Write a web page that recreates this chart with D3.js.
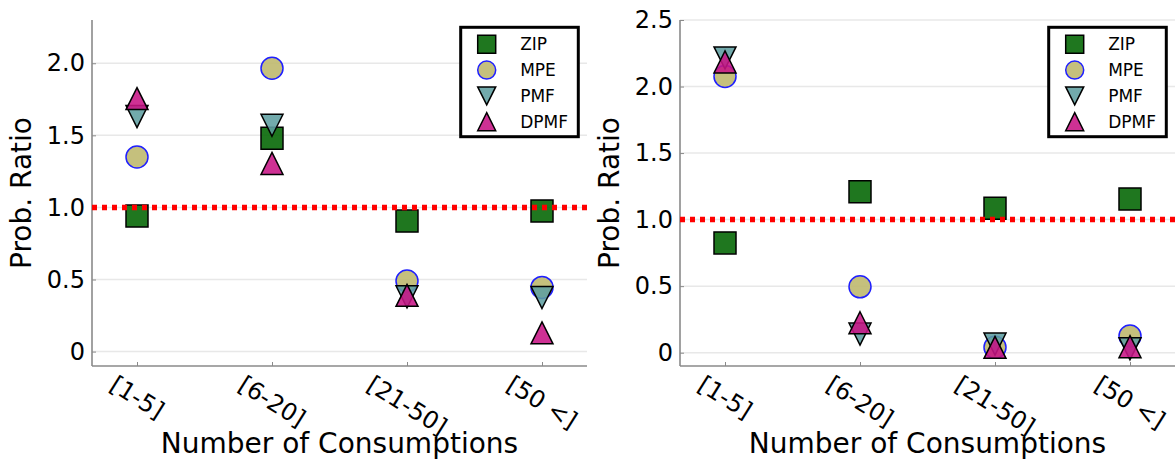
<!DOCTYPE html>
<html>
<head>
<meta charset="utf-8">
<script src="https://cdn.jsdelivr.net/npm/d3@7"></script>
<style>
  html, body { margin: 0; padding: 0; background: #fff; }
  svg { display: block; font-family: "DejaVu Sans", sans-serif; }
</style>
</head>
<body>
<svg id="chart" width="1175" height="463"></svg>
<script>
// Consumption-count buckets on the x axis
const categories = ["[1-5]", "[6-20]", "[21-50]", "[50 <]"];
const seriesNames = ["ZIP", "MPE", "PMF", "DPMF"];

// Left panel: probability ratio per bucket
const zipLeft  = [0.94, 1.48, 0.905, 0.975];
const mpeLeft  = [1.35, 1.965, 0.49, 0.445];
const pmfLeft  = [1.63, 1.57, 0.38, 0.375];
const dpmfLeft = [1.755, 1.305, 0.39, 0.13];

// Right panel: probability ratio per bucket
const zipRight  = [0.825, 1.21, 1.085, 1.155];
const mpeRight  = [2.075, 0.495, 0.04, 0.125];
const pmfRight  = [2.215, 0.14, 0.065, 0.03];
const dpmfRight = [2.185, 0.225, 0.04, 0.045];

// Y tick values and their labels
const yTicksLeft  = [0, 0.5, 1.0, 1.5, 2.0];
const yTickLabelsLeft  = ["0", "0.5", "1.0", "1.5", "2.0"];
const yTicksRight = [0, 0.5, 1.0, 1.5, 2.0, 2.5];
const yTickLabelsRight = ["0", "0.5", "1.0", "1.5", "2.0", "2.5"];

const referenceLevel = 1.0;

// Marker styles per series
const styles = {
  ZIP:  { shape: "square",   fill: "#006400", stroke: "#000" },
  MPE:  { shape: "circle",   fill: "#bdb76b", stroke: "#1f1fff" },
  PMF:  { shape: "triDown",  fill: "#5f9ea0", stroke: "#000" },
  DPMF: { shape: "triUp",    fill: "#c71585", stroke: "#000" }
};

function markerPath(shape, s) {
  const h = s / 2;
  if (shape === "square") return `M${-h},${-h}H${h}V${h}H${-h}Z`;
  if (shape === "triUp") return `M0,${-h}L${h},${h}L${-h},${h}Z`;
  if (shape === "triDown") return `M0,${h}L${h},${-h}L${-h},${-h}Z`;
  const p = d3.path();
  p.arc(0, 0, h, 0, 2 * Math.PI);
  p.closePath();
  return p.toString();
}

const svg = d3.select("#chart");

function drawPanel(cfg) {
  const { left, right, top, bottom, yMax, yTicks, yLabels, series } = cfg;
  const g = svg.append("g");

  const x = d3.scaleLinear().domain([-1 / 3, 3 + 1 / 3]).range([left, right]);
  const y = d3.scaleLinear().domain([-0.1, yMax]).range([bottom, top]);

  // horizontal grid
  g.append("g").selectAll("line").data(yTicks).join("line")
    .attr("x1", left).attr("x2", right)
    .attr("y1", d => y(d)).attr("y2", d => y(d))
    .attr("stroke", "#e8e8e8").attr("stroke-width", 1.5);

  // y axis
  const yAxis = d3.axisLeft(y).tickValues(yTicks)
    .tickFormat((d, i) => yLabels[i])
    .tickSizeInner(-4).tickSizeOuter(0).tickPadding(7);
  const ya = g.append("g").attr("transform", `translate(${left},0)`).call(yAxis);
  ya.select(".domain").attr("stroke", "#8a8a8a").attr("stroke-width", 1.6)
    .attr("d", `M0,${top}V${bottom}`);
  ya.selectAll(".tick line").attr("stroke", "#8a8a8a").attr("stroke-width", 1);
  ya.selectAll(".tick text").attr("font-size", 24).attr("fill", "#000")
    .attr("font-family", "DejaVu Sans");

  // x axis
  const xAxis = d3.axisBottom(x).tickValues(d3.range(categories.length))
    .tickFormat("").tickSizeInner(-4).tickSizeOuter(0);
  const xa = g.append("g").attr("transform", `translate(0,${bottom})`).call(xAxis);
  xa.select(".domain").attr("stroke", "#8a8a8a").attr("stroke-width", 1.6)
    .attr("d", `M${left},0H${right}`);
  xa.selectAll(".tick line").attr("stroke", "#8a8a8a").attr("stroke-width", 1);

  // rotated category labels, rotated box centred under each tick
  const angle = 32, rad = angle * Math.PI / 180, fs = 24, lineH = fs * 1.1;
  categories.forEach((c, i) => {
    const t = g.append("text").text(c)
      .attr("font-size", fs).attr("text-anchor", "middle")
      .attr("dominant-baseline", "central");
    const w = t.node().getComputedTextLength();
    const H = w * Math.sin(rad) + lineH * Math.cos(rad);
    const cy = bottom + 5 + H / 2;
    t.attr("transform", `translate(${x(i)},${cy}) rotate(${angle})`);
  });

  // markers, drawn series by series
  seriesNames.forEach((name, si) => {
    const st = styles[name];
    g.append("g").selectAll("path").data(series[si]).join("path")
      .attr("d", markerPath(st.shape, 22))
      .attr("transform", (d, i) => `translate(${x(i)},${y(d)})`)
      .attr("fill", st.fill).attr("fill-opacity", 0.88)
      .attr("stroke", st.stroke).attr("stroke-width", 1.5);
  });

  // reference line at ratio 1
  g.append("line")
    .attr("x1", left).attr("x2", right)
    .attr("y1", y(referenceLevel)).attr("y2", y(referenceLevel))
    .attr("stroke", "#ff0000").attr("stroke-width", 5.5)
    .attr("stroke-dasharray", "5,5");

  // axis titles
  g.append("text").text("Prob. Ratio")
    .attr("font-size", 28).attr("text-anchor", "middle")
    .attr("transform", `translate(${left - 61},${(top + bottom) / 2}) rotate(-90)`);
  g.append("text").text("Number of Consumptions")
    .attr("font-size", 28).attr("text-anchor", "middle")
    .attr("x", (left + right) / 2).attr("y", 453);

  // legend
  const lx = right - 126.3, ly = 27.3, lw = 117.6, lh = 109.4;
  const lg = g.append("g");
  lg.append("rect").attr("x", lx).attr("y", ly).attr("width", lw).attr("height", lh)
    .attr("fill", "#fff").attr("stroke", "#000").attr("stroke-width", 3);
  seriesNames.forEach((name, i) => {
    const st = styles[name];
    const cy = ly + 17 + i * 25.8;
    lg.append("path").attr("d", markerPath(st.shape, 18))
      .attr("transform", `translate(${lx + 26},${cy})`)
      .attr("fill", st.fill).attr("fill-opacity", 0.88)
      .attr("stroke", st.stroke).attr("stroke-width", 1.5);
    lg.append("text").text(name).attr("x", lx + 59.5).attr("y", cy)
      .attr("dominant-baseline", "central").attr("font-size", 17);
  });
}

drawPanel({
  left: 92, right: 587, top: 20, bottom: 366, yMax: 2.3,
  yTicks: yTicksLeft, yLabels: yTickLabelsLeft,
  series: [zipLeft, mpeLeft, pmfLeft, dpmfLeft]
});
drawPanel({
  left: 680, right: 1175, top: 20, bottom: 366, yMax: 2.5,
  yTicks: yTicksRight, yLabels: yTickLabelsRight,
  series: [zipRight, mpeRight, pmfRight, dpmfRight]
});
</script>
</body>
</html>
